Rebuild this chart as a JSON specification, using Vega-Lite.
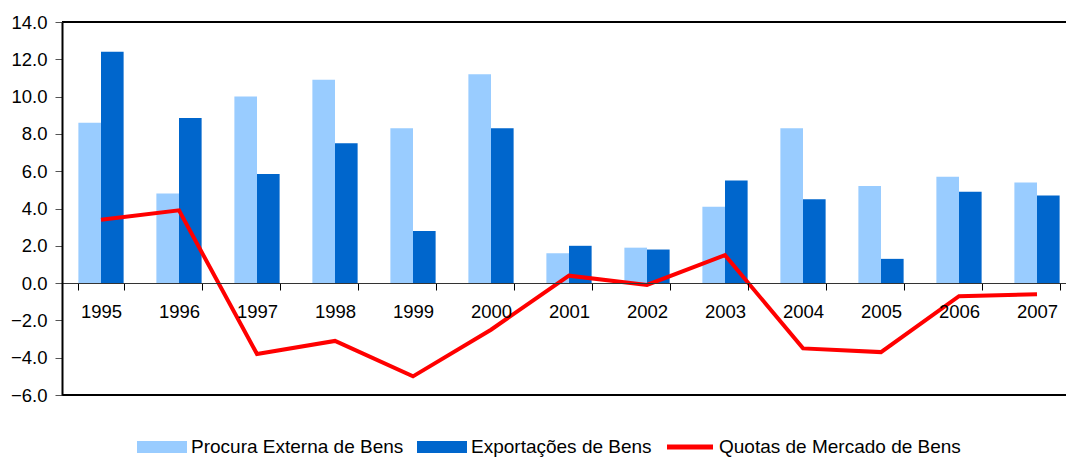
{
  "$schema": "https://vega.github.io/schema/vega-lite/v6.json",
  "autosize": {"type": "none"},
  "padding": {"left": 62, "top": 22, "right": 0, "bottom": 63},
  "width": 1004,
  "height": 373,
  "background": "white",
  "config": {
    "view": {"stroke": null},
    "font": "Liberation Sans",
    "axis": {"labelFont": "Liberation Sans", "labelColor": "#000000"},
    "legend": {"labelFont": "Liberation Sans"}
  },
  "data": {
    "values": [
      {"year": "1995", "series": "Procura Externa de Bens", "value": 8.6},
      {"year": "1996", "series": "Procura Externa de Bens", "value": 4.8},
      {"year": "1997", "series": "Procura Externa de Bens", "value": 10.0},
      {"year": "1998", "series": "Procura Externa de Bens", "value": 10.9},
      {"year": "1999", "series": "Procura Externa de Bens", "value": 8.3},
      {"year": "2000", "series": "Procura Externa de Bens", "value": 11.2},
      {"year": "2001", "series": "Procura Externa de Bens", "value": 1.6},
      {"year": "2002", "series": "Procura Externa de Bens", "value": 1.9},
      {"year": "2003", "series": "Procura Externa de Bens", "value": 4.1},
      {"year": "2004", "series": "Procura Externa de Bens", "value": 8.3},
      {"year": "2005", "series": "Procura Externa de Bens", "value": 5.2},
      {"year": "2006", "series": "Procura Externa de Bens", "value": 5.7},
      {"year": "2007", "series": "Procura Externa de Bens", "value": 5.4},
      {"year": "1995", "series": "Exportações de Bens", "value": 12.4},
      {"year": "1996", "series": "Exportações de Bens", "value": 8.85},
      {"year": "1997", "series": "Exportações de Bens", "value": 5.85},
      {"year": "1998", "series": "Exportações de Bens", "value": 7.5},
      {"year": "1999", "series": "Exportações de Bens", "value": 2.8},
      {"year": "2000", "series": "Exportações de Bens", "value": 8.3},
      {"year": "2001", "series": "Exportações de Bens", "value": 2.0},
      {"year": "2002", "series": "Exportações de Bens", "value": 1.8},
      {"year": "2003", "series": "Exportações de Bens", "value": 5.5},
      {"year": "2004", "series": "Exportações de Bens", "value": 4.5},
      {"year": "2005", "series": "Exportações de Bens", "value": 1.3},
      {"year": "2006", "series": "Exportações de Bens", "value": 4.9},
      {"year": "2007", "series": "Exportações de Bens", "value": 4.7},
      {"year": "1995", "series": "Quotas de Mercado de Bens", "value": 3.4},
      {"year": "1996", "series": "Quotas de Mercado de Bens", "value": 3.9},
      {"year": "1997", "series": "Quotas de Mercado de Bens", "value": -3.8},
      {"year": "1998", "series": "Quotas de Mercado de Bens", "value": -3.1},
      {"year": "1999", "series": "Quotas de Mercado de Bens", "value": -5.0},
      {"year": "2000", "series": "Quotas de Mercado de Bens", "value": -2.5},
      {"year": "2001", "series": "Quotas de Mercado de Bens", "value": 0.4},
      {"year": "2002", "series": "Quotas de Mercado de Bens", "value": -0.1},
      {"year": "2003", "series": "Quotas de Mercado de Bens", "value": 1.5},
      {"year": "2004", "series": "Quotas de Mercado de Bens", "value": -3.5},
      {"year": "2005", "series": "Quotas de Mercado de Bens", "value": -3.7},
      {"year": "2006", "series": "Quotas de Mercado de Bens", "value": -0.7},
      {"year": "2007", "series": "Quotas de Mercado de Bens", "value": -0.6}
    ]
  },
  "encoding": {
    "x": {
      "field": "year",
      "type": "nominal",
      "scale": {"range": [0, 1014], "paddingInner": 0.42, "paddingOuter": 0.21},
      "axis": {
        "title": null,
        "labelAngle": 0,
        "labelFontSize": 18.5,
        "labelPadding": 12,
        "tickBand": "extent",
        "tickSize": 7,
        "tickColor": "#000000",
        "domainColor": "#333333",
        "domainWidth": 1,
        "offset": -112,
        "zindex": 1
      }
    },
    "y": {
      "type": "quantitative",
      "scale": {"domain": [-6, 14], "nice": false, "zero": false},
      "axis": {
        "title": null,
        "values": [-6, -4, -2, 0, 2, 4, 6, 8, 10, 12, 14],
        "format": ".1f",
        "labelFontSize": 18.5,
        "labelPadding": 8,
        "tickSize": 7,
        "tickColor": "#555555",
        "domainColor": "#000000",
        "domainWidth": 2,
        "grid": false,
        "zindex": 1
      }
    }
  },
  "layer": [
    {
      "transform": [{"filter": "datum.series !== 'Quotas de Mercado de Bens'"}],
      "mark": {"type": "bar"},
      "encoding": {
        "y": {"field": "value"},
        "xOffset": {
          "field": "series",
          "type": "nominal",
          "scale": {"domain": ["Procura Externa de Bens", "Exportações de Bens"], "paddingInner": 0, "paddingOuter": 0}
        },
        "color": {
          "field": "series",
          "type": "nominal",
          "scale": {
            "domain": ["Procura Externa de Bens", "Exportações de Bens", "Quotas de Mercado de Bens"],
            "range": ["#99CCFF", "#0066CC", "#FF0000"]
          },
          "legend": {
            "title": null,
            "orient": "none",
            "direction": "horizontal",
            "legendX": 75,
            "legendY": 400,
            "labelFontSize": 19,
            "labelColor": "#000000",
            "labelOffset": 4,
            "labelLimit": 0,
            "columnPadding": 13,
            "symbolSize": 2500,
            "symbolStrokeWidth": 0,
            "encode": {
              "symbols": {
                "update": {
                  "shape": {"signal": "datum.value === 'Quotas de Mercado de Bens' ? 'M-0.92,-0.1H0.92V0.1H-0.92Z' : 'M-1,-0.24H1V0.24H-1Z'"},
                  "fill": {"scale": "color", "field": "value"},
                  "stroke": {"value": "transparent"},
                  "strokeWidth": {"value": 0},
                  "opacity": {"value": 1}
                }
              }
            }
          }
        }
      }
    },
    {
      "transform": [{"filter": "datum.series === 'Quotas de Mercado de Bens'"}],
      "mark": {"type": "line", "strokeWidth": 4, "strokeJoin": "miter"},
      "encoding": {
        "y": {"field": "value"},
        "color": {"field": "series", "type": "nominal"}
      }
    },
    {
      "data": {"values": [{"edge": 14}, {"edge": -6}]},
      "mark": {"type": "rule", "color": "#000000", "strokeWidth": 2},
      "encoding": {
        "x": null,
        "y": {"field": "edge", "type": "quantitative"}
      }
    }
  ]
}
